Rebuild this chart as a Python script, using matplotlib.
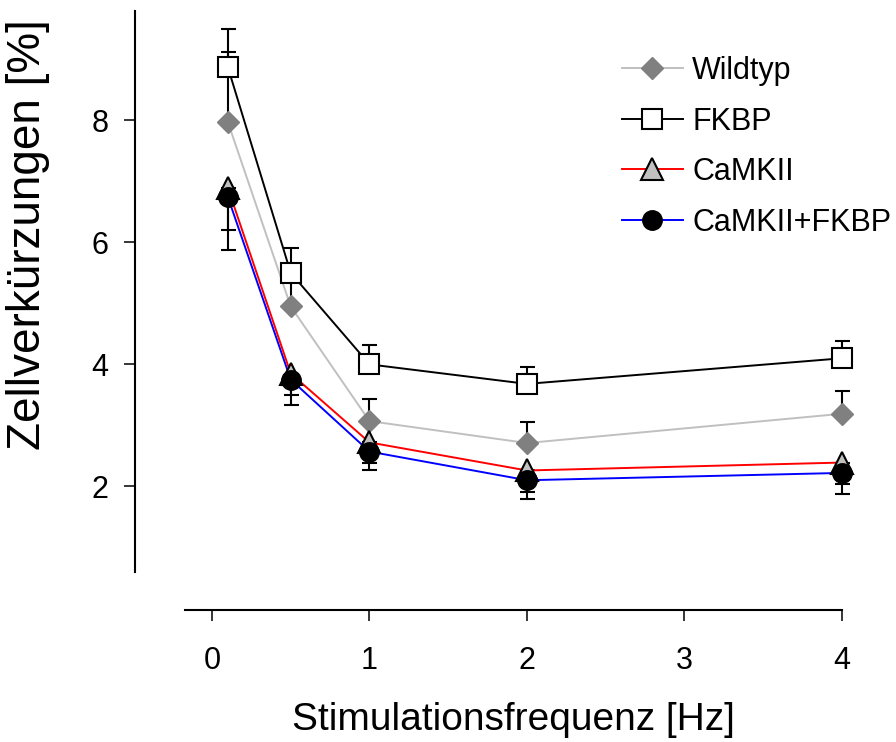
import matplotlib
matplotlib.use("Agg")
import matplotlib.pyplot as plt
from matplotlib.lines import Line2D

plt.rcParams['font.family'] = ['Liberation Sans', 'DejaVu Sans']

# Stimulation frequencies (Hz)
freq = [0.1, 0.5, 1, 2, 4]

# Mean cell shortening (%) and SEM per group
wildtyp = [7.98, 4.95, 3.07, 2.71, 3.19]
wildtyp_sem = [1.14, 0.50, 0.36, 0.35, 0.38]

fkbp = [8.88, 5.50, 4.00, 3.68, 4.10]
fkbp_sem = [0.62, 0.41, 0.31, 0.28, 0.28]

camkii = [6.90, 3.85, 2.72, 2.26, 2.39]
camkii_sem = [0.70, 0.35, 0.33, 0.36, 0.35]

camkii_fkbp = [6.75, 3.75, 2.57, 2.10, 2.22]
camkii_fkbp_sem = [0.87, 0.42, 0.31, 0.31, 0.34]

xticks = [0, 1, 2, 3, 4]
yticks = [2, 4, 6, 8]
labels = ['Wildtyp', 'FKBP', 'CaMKII', 'CaMKII+FKBP']

fig = plt.figure(figsize=(8.96, 7.42), dpi=100)
ax = fig.add_axes([0.206, 0.2295, 0.7337, 0.7561])

lw = 1.4
cap = 5.4
zeros = [0] * len(freq)

# Error bars: upper groups upward, lower groups downward
for y, e, up in [(wildtyp, wildtyp_sem, True), (fkbp, fkbp_sem, True),
                 (camkii, camkii_sem, False), (camkii_fkbp, camkii_fkbp_sem, False)]:
    err = [zeros, e] if up else [e, zeros]
    eb = ax.errorbar(freq, y, yerr=err, fmt='none', ecolor='black',
                     elinewidth=1.5, capsize=cap, capthick=1.5, zorder=2)
    for art in eb.lines[1] + eb.lines[2]:
        art.set_clip_on(False)

# Connecting lines
ax.plot(freq, wildtyp, color='#c0c0c0', lw=lw, zorder=3, clip_on=False)
ax.plot(freq, fkbp, color='black', lw=lw, zorder=3, clip_on=False)
ax.plot(freq, camkii_fkbp, color='#0000ff', lw=lw, zorder=3, clip_on=False)
ax.plot(freq, camkii, color='#ff0000', lw=lw, zorder=3, clip_on=False)

# Markers
ax.plot(freq, wildtyp, ls='none', marker='D', ms=11, mfc='#808080',
        mec='#808080', zorder=4, clip_on=False)
ax.plot(freq, fkbp, ls='none', marker='s', ms=14, mfc='white',
        mec='black', mew=1.5, zorder=4, clip_on=False)
ax.plot(freq, camkii, ls='none', marker='^', ms=16, mfc='#c0c0c0',
        mec='black', mew=1.5, zorder=4, clip_on=False)
ax.plot(freq, camkii_fkbp, ls='none', marker='o', ms=14, mfc='black',
        mec='black', zorder=5, clip_on=False)

ax.set_xlim(-0.174, 4.0)
ax.set_ylim(0.6, 9.8)
ax.set_xticks(xticks)
ax.set_xticklabels([str(t) for t in xticks])
ax.set_yticks(yticks)
ax.set_yticklabels([str(t) for t in yticks])

for s in ['top', 'right']:
    ax.spines[s].set_visible(False)
ax.spines['left'].set_position(('outward', 35.7))
ax.spines['bottom'].set_position(('outward', 27.5))
ax.spines['left'].set_linewidth(1.5)
ax.spines['bottom'].set_linewidth(1.5)
ax.tick_params(axis='both', direction='out', length=8, width=1.1,
               labelsize=22)
ax.tick_params(axis='x', pad=18)
ax.tick_params(axis='y', pad=11)

ax.set_xlabel('Stimulationsfrequenz [Hz]', fontsize=28)
ax.set_ylabel('Zellverkürzungen [%]', fontsize=33)
ax.xaxis.set_label_coords(0.501, -0.232)
ax.yaxis.set_label_coords(-0.205, 0.600)

handles = [
    Line2D([], [], color='#c0c0c0', lw=lw, marker='D', ms=11,
           mfc='#808080', mec='#808080'),
    Line2D([], [], color='black', lw=lw, marker='s', ms=14,
           mfc='white', mec='black', mew=1.5),
    Line2D([], [], color='#ff0000', lw=lw, marker='^', ms=16,
           mfc='#c0c0c0', mec='black', mew=1.5),
    Line2D([], [], color='#0000ff', lw=lw, marker='o', ms=14,
           mfc='black', mec='black'),
]
ax.legend(handles, labels, loc='upper left', bbox_to_anchor=(0.665, 0.919),
          frameon=False, fontsize=22, numpoints=1, handlelength=2.0,
          handletextpad=0.3, labelspacing=0.67, borderaxespad=0,
          borderpad=0)

fig.savefig('out.png', dpi=100)
